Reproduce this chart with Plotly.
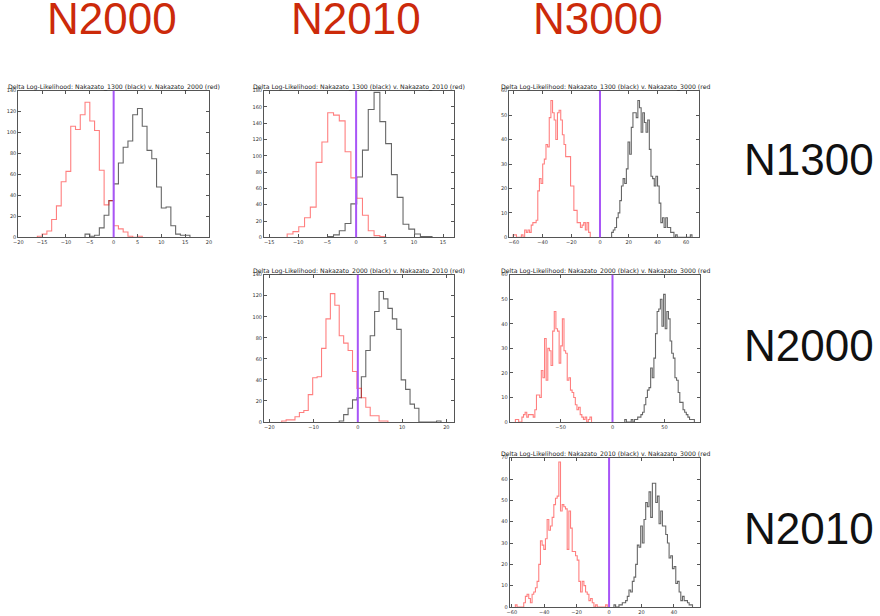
import numpy as np
import plotly.graph_objects as go

# ---- histogram counts (first bin edge, bin width, counts) ----
# N1300 (black) v. N2000 (red)
p1_red_start, p1_red_width = -16.0, 1.0
p1_red = [1, 3, 6, 17, 30, 53, 63, 106, 103, 117, 129, 111, 102, 64, 31, 35, 11, 8, 5, 1, 0, 1]
p1_black_start, p1_black_width = -6.0, 1.0
p1_black = [3, 1, 2, 9, 21, 35, 51, 71, 86, 92, 117, 123, 106, 83, 75, 48, 28, 29, 11, 3, 2, 2]

# N1300 (black) v. N2010 (red)
p2_red_start, p2_red_width = -11.9, 1.0
p2_red = [4, 7, 13, 24, 37, 92, 117, 153, 150, 143, 105, 73, 48, 27, 8, 2, 1]
p2_black_start, p2_black_width = -4.9, 1.0
p2_black = [1, 3, 8, 17, 41, 74, 107, 157, 178, 142, 115, 77, 49, 16, 10, 4, 1, 1]

# N1300 (black) v. N3000 (red)
p3_red_start, p3_red_width = -60.5, 1.143
p3_red = [1, 1, 0, 0, 0, 1, 0, 3, 2, 3, 2, 5, 6, 6, 7, 19, 24, 22, 30, 32, 38, 37, 49, 56,
          51, 48, 40, 51, 52, 48, 42, 38, 33, 33, 33, 21, 21, 11, 11, 6, 6, 4, 5, 6, 3, 6, 2]
p3_black_start, p3_black_width = 8.1, 1.143
p3_black = [2, 3, 4, 8, 10, 15, 21, 24, 22, 28, 39, 34, 45, 51, 51, 49, 56, 53, 43, 51, 47, 43,
            48, 36, 25, 24, 21, 25, 21, 14, 6, 8, 4, 8, 4, 4, 2, 2, 0, 1, 0, 0, 0, 0, 0, 0, 0, 0, 1]

# N2000 (black) v. N2010 (red)
p4_red_start, p4_red_width = -17.2, 1.0
p4_red = [1, 2, 2, 5, 9, 11, 26, 42, 43, 70, 98, 122, 111, 82, 75, 68, 48, 32, 23, 14, 6, 6, 1, 1]
p4_black_start, p4_black_width = -4.2, 1.0
p4_black = [1, 7, 13, 21, 23, 43, 68, 82, 105, 124, 117, 108, 98, 88, 40, 31, 17, 13, 0, 0, 0, 0, 1]

# N2000 (black) v. N3000 (red)
p5_red_start, p5_red_width = -93.5, 1.56
p5_red = [1, 1, 0, 0, 2, 3, 4, 2, 3, 3, 3, 2, 5, 11, 11, 10, 21, 18, 34, 17, 30, 29, 23, 37,
          45, 38, 37, 24, 31, 42, 29, 28, 17, 18, 13, 12, 10, 7, 5, 6, 3, 2, 1, 2, 0, 1, 2]
p5_black_start, p5_black_width = 11.8, 1.56
p5_black = [1, 0, 0, 0, 1, 0, 1, 1, 2, 2, 3, 4, 7, 10, 13, 14, 22, 18, 26, 36, 45, 46, 50, 39,
            52, 38, 45, 42, 33, 28, 26, 18, 17, 12, 8, 8, 5, 4, 3, 2, 1, 1, 1]

# N2010 (black) v. N3000 (red)
p6_red_start, p6_red_width = -57.8, 1.031
p6_red = [1, 0, 0, 0, 0, 2, 5, 6, 4, 2, 6, 7, 9, 12, 20, 31, 29, 27, 32, 41, 36, 38, 42, 48, 51,
          52, 68, 45, 48, 47, 46, 27, 45, 37, 26, 26, 24, 22, 12, 7, 12, 10, 7, 6, 3, 4, 2, 0, 1,
          0, 0, 0, 0, 0, 1]
p6_black_start, p6_black_width = 3.0, 1.031
p6_black = [1, 0, 0, 1, 1, 2, 2, 3, 5, 8, 7, 12, 14, 20, 29, 28, 38, 30, 41, 49, 47, 54, 42, 58,
            58, 49, 52, 39, 45, 38, 38, 34, 30, 23, 24, 18, 19, 11, 12, 7, 3, 5, 3, 3, 2, 1, 1]

titles = [
    "Delta Log-Likelihood: Nakazato_1300 (black) v. Nakazato_2000 (red)",
    "Delta Log-Likelihood: Nakazato_1300 (black) v. Nakazato_2010 (red)",
    "Delta Log-Likelihood: Nakazato_1300 (black) v. Nakazato_3000 (red",
    "Delta Log-Likelihood: Nakazato_2000 (black) v. Nakazato_2010 (red)",
    "Delta Log-Likelihood: Nakazato_2000 (black) v. Nakazato_3000 (red",
    "Delta Log-Likelihood: Nakazato_2010 (black) v. Nakazato_3000 (red",
]
col_labels = ["N2000", "N2010", "N3000"]
row_labels = ["N1300", "N2000", "N2010"]

x_ranges = [[-20, 20], [-15.9, 16.95], [-63.2, 69.2], [-21.2, 21.8], [-99, 84], [-61.3, 55.9]]
y_ranges = [[0, 140], [0, 180], [0, 60], [0, 140], [0, 60], [0, 70]]
x_ticks = [list(range(-20, 21, 5)), list(range(-15, 16, 5)), list(range(-60, 61, 20)),
           list(range(-20, 21, 10)), [-50, 0, 50], list(range(-60, 41, 20))]
y_dticks = [20, 20, 10, 20, 10, 10]

# panel boxes in pixels: left, right, top, bottom
boxes = [(18.3, 209.0, 90.7, 237.3), (264.0, 454.3, 90.7, 237.3), (509.3, 699.3, 90.7, 237.3),
         (264.0, 454.3, 274.7, 422.0), (509.7, 699.7, 274.7, 422.0), (509.7, 699.7, 457.7, 607.0)]

W, H = 880, 616

series = [
    ((p1_red_start, p1_red_width, p1_red), (p1_black_start, p1_black_width, p1_black)),
    ((p2_red_start, p2_red_width, p2_red), (p2_black_start, p2_black_width, p2_black)),
    ((p3_red_start, p3_red_width, p3_red), (p3_black_start, p3_black_width, p3_black)),
    ((p4_red_start, p4_red_width, p4_red), (p4_black_start, p4_black_width, p4_black)),
    ((p5_red_start, p5_red_width, p5_red), (p5_black_start, p5_black_width, p5_black)),
    ((p6_red_start, p6_red_width, p6_red), (p6_black_start, p6_black_width, p6_black)),
]


def step_xy(start, width, counts):
    # outline of a step histogram, like histtype='step'
    counts = np.asarray(counts, dtype=float)
    edges = start + width * np.arange(len(counts) + 1)
    x = np.concatenate([[edges[0]], edges])
    y = np.concatenate([[0.0], counts, [0.0]])
    return x, y


fig = go.Figure()
shapes = []
annotations = []
axis_style = dict(showline=True, linecolor="#555555", linewidth=1, mirror="ticks",
                  ticks="inside", ticklen=3, tickcolor="#555555", showgrid=False,
                  zeroline=False, automargin=False,
                  tickfont=dict(size=5, color="#333333", family="DejaVu Sans"))

for i, ((rs, rw, rc), (bs, bw, bc)) in enumerate(series):
    k = i + 1
    xa, ya = ("x" if k == 1 else f"x{k}"), ("y" if k == 1 else f"y{k}")
    bx, by = step_xy(bs, bw, bc)
    rx, ry = step_xy(rs, rw, rc)
    fig.add_trace(go.Scatter(x=bx, y=by, mode="lines", line_shape="hv", xaxis=xa, yaxis=ya,
                             line=dict(color="rgba(0,0,0,0.6)", width=1.1), hoverinfo="skip"))
    fig.add_trace(go.Scatter(x=rx, y=ry, mode="lines", line_shape="hv", xaxis=xa, yaxis=ya,
                             line=dict(color="rgba(255,0,0,0.5)", width=1.1), hoverinfo="skip"))

    left, right, top, bottom = boxes[i]
    fig.layout[f"xaxis{k}"] = dict(domain=[left / W, right / W], range=x_ranges[i],
                                   tickvals=x_ticks[i], anchor=ya, **axis_style)
    fig.layout[f"yaxis{k}"] = dict(domain=[1 - bottom / H, 1 - top / H], range=y_ranges[i],
                                   dtick=y_dticks[i], anchor=xa, **axis_style)

    shapes.append(dict(type="line", xref=xa, yref=f"{ya} domain", x0=0, x1=0, y0=0, y1=1,
                       line=dict(color="#a855f7", width=2), layer="above"))

    cx = (left + right) / 2
    if titles[i].endswith(")"):
        ann = dict(text=titles[i], x=cx / W, xanchor="center")
    else:
        # title runs past the cropped edge in the original, so anchor where it starts
        ann = dict(text=titles[i], x=(cx - 105.5) / W, xanchor="left")
    ann.update(xref="paper", yref="paper", y=1 - (top - 4) / H, yanchor="middle",
               showarrow=False, font=dict(size=6.2, color="#222222", family="DejaVu Sans"))
    annotations.append(ann)

col_x = [112, 356, 598]
for lab, x in zip(col_labels, col_x):
    annotations.append(dict(text=lab, x=x / W, y=1 - 18.5 / H, xref="paper", yref="paper",
                            xanchor="center", yanchor="middle", showarrow=False,
                            font=dict(size=44, color="#cc2a0a", family="Liberation Sans")))
row_y = [159, 345, 528]
for lab, y in zip(row_labels, row_y):
    annotations.append(dict(text=lab, x=741.5 / W, y=1 - y / H, xref="paper", yref="paper",
                            xanchor="left", yanchor="middle", showarrow=False,
                            font=dict(size=44, color="#111111", family="Liberation Sans")))

fig.update_layout(width=W, height=H, margin=dict(l=0, r=0, t=0, b=0), showlegend=False,
                  plot_bgcolor="white", paper_bgcolor="white", shapes=shapes,
                  annotations=annotations)

# the page's default body margin would push the 880x616 figure off by 8px
fig.write_html("out.html", config={"displayModeBar": False},
               post_script="document.body.style.margin = '0';")
